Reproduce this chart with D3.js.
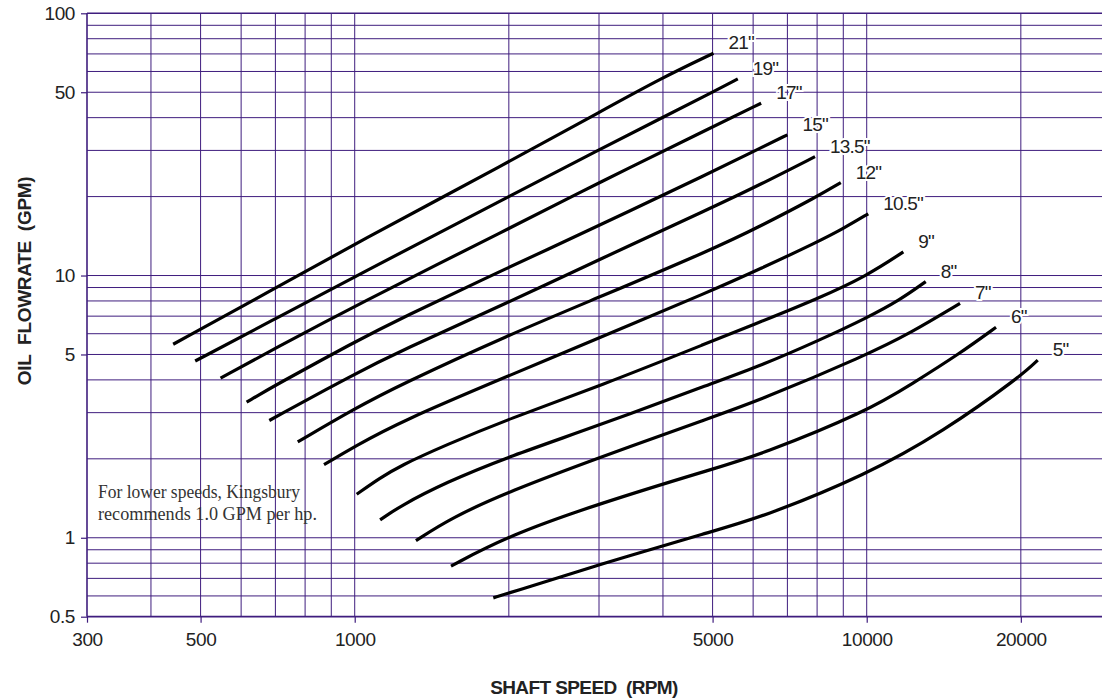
<!DOCTYPE html>
<html><head><meta charset="utf-8">
<script src="https://cdn.jsdelivr.net/npm/d3@7"></script>
<style>body{margin:0;background:#fff;} svg{display:block;}</style>
</head><body><svg id="c" width="1102" height="700"></svg>
<script>
// ---- data (shaft speed RPM, oil flow GPM) ----
const sizeLabels = ['21"','19"','17"','15"','13.5"','12"','10.5"','9"','8"','7"','6"','5"'];
const curve21  = [[442,5.47],[700,8.94],[1000,13.2],[2000,27.1],[3000,41.9],[4000,57.0],[5020,70.4]];
const curve19  = [[488,4.72],[700,6.84],[1000,9.9],[2000,20.0],[3000,30.2],[4000,40.1],[5000,50.1],[5600,56.2]];
const curve17  = [[547,4.06],[700,5.28],[1000,7.66],[2000,15.1],[3000,22.6],[5000,36.9],[6220,45.4]];
const curve15  = [[615,3.29],[700,3.82],[1000,5.58],[1226,6.85],[2000,10.75],[3000,15.5],[5000,24.9],[6190,30.6],[7000,34.4]];
const curve135 = [[681,2.8],[1000,4.22],[1226,5.15],[2000,7.91],[3000,11.5],[5000,18.2],[6190,22.2],[7925,28.4]];
const curve12  = [[774,2.32],[1000,3.11],[1226,3.83],[2000,5.94],[3000,8.26],[5000,12.6],[6190,15.4],[8000,20.0],[8900,22.6]];
const curve105 = [[871,1.9],[1000,2.23],[1226,2.77],[2000,4.15],[3000,5.78],[5000,8.79],[6190,10.6],[8000,13.4],[9000,15.1],[10070,17.2]];
const curve9   = [[1009,1.465],[1121,1.69],[1226,1.88],[1500,2.25],[2000,2.84],[3000,3.78],[5000,5.63],[6190,6.65],[8000,8.14],[10000,9.96],[11790,12.3]];
const curve8   = [[1121,1.17],[1226,1.32],[1500,1.62],[2000,2.04],[3000,2.68],[5000,3.89],[6190,4.52],[8106,5.68],[10000,6.89],[11614,8.07],[13040,9.48]];
const curve7   = [[1317,0.975],[1542,1.19],[2000,1.50],[3000,2.02],[5000,2.89],[6190,3.35],[10000,4.98],[12149,6.02],[15214,7.83]];
const curve6   = [[1542,0.78],[2000,1.02],[3000,1.35],[5000,1.83],[6190,2.07],[10000,3.03],[12300,3.88],[15214,5.05],[17888,6.35]];
const curve5   = [[1865,0.59],[2000,0.615],[3000,0.79],[5000,1.06],[6190,1.19],[10000,1.74],[14108,2.54],[19929,4.11],[21580,4.76]];
const curves = [curve21,curve19,curve17,curve15,curve135,curve12,curve105,curve9,curve8,curve7,curve6,curve5];

const xTickValues = [300,500,1000,5000,10000,20000];
const yTickValues = [0.5,1,5,10,50,100];
const xTitle = "SHAFT SPEED  (RPM)";
const yTitle = "OIL  FLOWRATE  (GPM)";
const noteLines = ["For lower speeds, Kingsbury","recommends 1.0 GPM per hp."];

// ---- layout ----
const W = 1102, H = 700;
const pLeft = 87, pTop = 13.3, pBottom = 616.7, pRight = W;
const gridColor = "#3f1d7e";
const sans = "'Liberation Sans', Arial, Helvetica, sans-serif";

const svg = d3.select("#c");
svg.append("rect").attr("width",W).attr("height",H).attr("fill","#fff");

const x = d3.scaleLog().domain([300,30000]).range([pLeft,1111]);
const y = d3.scaleLog().domain([0.5,100]).range([pBottom,pTop]);

svg.append("clipPath").attr("id","plot").append("rect")
  .attr("x",pLeft).attr("y",pTop).attr("width",pRight-pLeft).attr("height",pBottom-pTop);

// grid
const xGrid = [], yGrid = [];
[100,1000,10000].forEach(d=>{ for(let m=1;m<=9;m++){ const v=m*d; if(v>300 && v<30000) xGrid.push(v);} });
[0.1,1,10].forEach(d=>{ for(let m=1;m<=9;m++){ const v=+(m*d).toPrecision(3); if(v>0.5 && v<100) yGrid.push(v);} });

const g = svg.append("g");
g.selectAll("line.vx").data(xGrid).join("line")
  .attr("x1",d=>x(d)).attr("x2",d=>x(d)).attr("y1",pTop).attr("y2",pBottom)
  .attr("stroke",gridColor).attr("stroke-width",1);
g.selectAll("line.hy").data(yGrid).join("line")
  .attr("x1",pLeft).attr("x2",pRight).attr("y1",d=>y(d)).attr("y2",d=>y(d))
  .attr("stroke",gridColor).attr("stroke-width",1);

// frame
g.append("line").attr("x1",pLeft).attr("x2",pRight).attr("y1",pTop).attr("y2",pTop).attr("stroke",gridColor).attr("stroke-width",1.6);
g.append("line").attr("x1",pLeft).attr("x2",pRight).attr("y1",pBottom).attr("y2",pBottom).attr("stroke",gridColor).attr("stroke-width",1.8);
g.append("line").attr("x1",pLeft).attr("x2",pLeft).attr("y1",pTop).attr("y2",pBottom).attr("stroke",gridColor).attr("stroke-width",1.6);

// axes
const xAxis = d3.axisBottom(x).tickValues(xTickValues).tickFormat(d3.format("d")).tickSize(6).tickPadding(6);
const yAxis = d3.axisLeft(y).tickValues(yTickValues).tickFormat(d=>String(d)).tickSize(6).tickPadding(6);
const gx = svg.append("g").attr("transform",`translate(0,${pBottom})`).call(xAxis);
const gy = svg.append("g").attr("transform",`translate(${pLeft},0)`).call(yAxis);
[gx,gy].forEach(a=>{
  a.select(".domain").remove();
  a.selectAll(".tick line").attr("stroke",gridColor).attr("stroke-width",1.2);
  a.selectAll(".tick text").attr("fill","#222").style("font-family",sans)
    .style("font-size","19px").style("letter-spacing","-0.4px");
});
gx.selectAll(".tick text").attr("dy","0.9em");

// titles
svg.append("text").attr("x",584).attr("y",694).attr("text-anchor","middle")
  .style("font-family",sans).style("font-weight","bold")
  .style("font-size","19px").style("letter-spacing","-0.6px").style("white-space","pre")
  .attr("fill","#222").text(xTitle);
svg.append("text").attr("transform","translate(31,281) rotate(-90)").attr("text-anchor","middle")
  .style("font-family",sans).style("font-weight","bold")
  .style("font-size","19px").style("letter-spacing","-0.3px").style("white-space","pre")
  .attr("fill","#222").text(yTitle);

// note
svg.append("g").selectAll("text").data(noteLines).join("text")
  .attr("x",98).attr("y",(d,i)=>498+i*22)
  .attr("textLength",(d,i)=>i===0?202:219).attr("lengthAdjust","spacingAndGlyphs")
  .style("font-family","'Liberation Serif', 'Times New Roman', serif").style("font-size","18px")
  .attr("fill","#333").text(d=>d);

// curves
const line = d3.line().x(d=>x(d[0])).y(d=>y(d[1])).curve(d3.curveBasis);
const cg = svg.append("g").attr("clip-path","url(#plot)");
cg.selectAll("path").data(curves).join("path")
  .attr("d",line).attr("fill","none").attr("stroke","#000").attr("stroke-width",3.2)
  .attr("stroke-linecap","butt").attr("stroke-linejoin","round");

// curve labels
svg.append("g").selectAll("text").data(curves).join("text")
  .attr("x",d=>x(d[d.length-1][0])+15).attr("y",d=>y(d[d.length-1][1])-4)
  .style("font-family",sans).style("font-size","19px")
  .style("letter-spacing","-0.8px")
  .attr("fill","#222").attr("stroke","#fff").attr("stroke-width",4).attr("paint-order","stroke")
  .text((d,i)=>sizeLabels[i]);
</script>
</body></html>
